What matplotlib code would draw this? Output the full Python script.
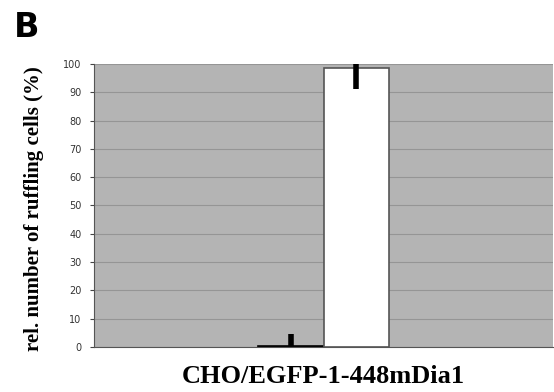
import matplotlib.pyplot as plt
import numpy as np

# data
groups = ['control', 'mDia1']
values = [0.5, 98.5]
err_low = [0, 7.5]
err_high = [4.0, 7.5]
yticks = np.arange(0, 101, 10)

fig = plt.figure(figsize=(5.54, 3.92), dpi=100)
ax = fig.add_axes([0.1697, 0.1148, 0.8285, 0.722])

ax.set_facecolor('#b4b4b4')
ax.set_xlim(0, 1)
ax.set_ylim(0, 100)
ax.set_yticks(yticks)
ax.yaxis.grid(True, color='#959595', lw=0.8)
ax.set_axisbelow(True)

xpos = [0.429, 0.571]
ax.bar(xpos, values, width=0.1416, color=['black', 'white'],
       edgecolor=['black', '#555555'], lw=1.2, zorder=2)
ax.errorbar(xpos, values, yerr=[err_low, err_high], fmt='none',
            ecolor='black', elinewidth=4, capsize=0, zorder=3)

ax.set_xticks([])
ax.tick_params(axis='y', labelsize=7, length=3, color='#444444',
               labelcolor='#333333', pad=6)
for s in ['top', 'right']:
    ax.spines[s].set_visible(False)
ax.spines['left'].set_color('#555555')
ax.spines['bottom'].set_color('#555555')

ax.set_ylabel('rel. number of ruffling cells (%)', family='Liberation Serif',
              fontweight='bold', fontsize=15)
ax.yaxis.set_label_coords(-0.11, 0.49)
ax.set_xlabel('CHO/EGFP-1-448mDia1', family='Liberation Serif',
              fontweight='bold', fontsize=19, labelpad=13)
fig.text(0.025, 0.905, 'B', fontsize=24, fontweight='heavy',
         family='DejaVu Sans')

fig.savefig('out.png', dpi=100)
